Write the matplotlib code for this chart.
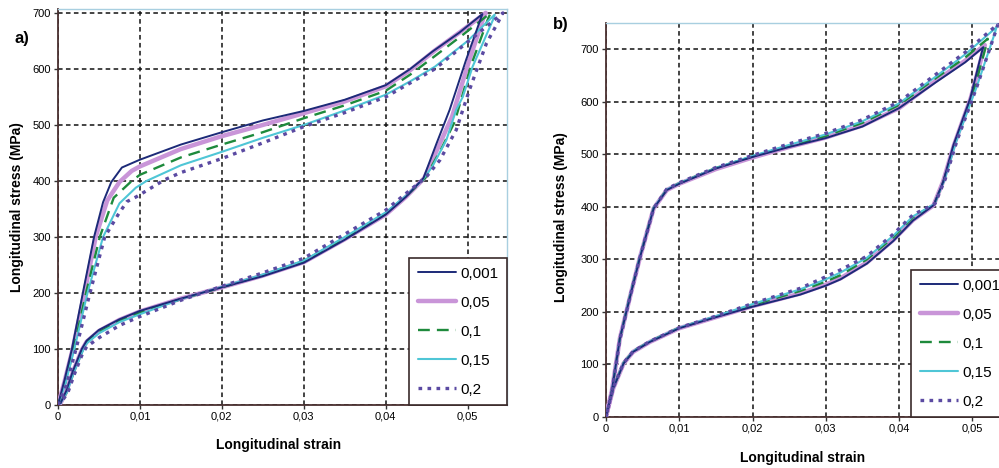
import matplotlib
matplotlib.use("Agg")
import matplotlib.pyplot as plt
from matplotlib.ticker import FuncFormatter

plt.rcParams['font.family'] = ['Liberation Sans', 'DejaVu Sans']

# legend labels (strain rate)
labels = ['0,001', '0,05', '0,1', '0,15', '0,2']

# ---- panel a): loading branch then unloading branch ----
a_e_0001 = [0, 0.0008, 0.0017, 0.0031, 0.0044, 0.0055, 0.0065, 0.0078, 0.010, 0.015, 0.020, 0.025, 0.030, 0.035,
            0.040, 0.043, 0.0457, 0.049, 0.0518,
            0.0516, 0.0498, 0.0478, 0.0462, 0.0446, 0.0425, 0.040, 0.035, 0.030, 0.025, 0.020, 0.015, 0.010,
            0.0075, 0.005, 0.0035, 0.0029, 0.0018, 0.001, 0.0003]
a_s_0001 = [0, 45, 100, 205, 300, 362, 398, 424, 438, 465, 487, 508, 525, 545, 571, 600, 631, 665, 698,
            690, 616, 527, 467, 405, 372, 340, 295, 254, 230, 210, 190, 168, 153, 134, 115, 100, 60, 25, 3]

a_e_005 = [0, 0.0008, 0.0018, 0.0033, 0.0046, 0.0060, 0.0075, 0.009, 0.010, 0.015, 0.020, 0.025, 0.030, 0.035,
           0.040, 0.043, 0.046, 0.049, 0.0522,
           0.0519, 0.0502, 0.0481, 0.0464, 0.0447, 0.0425, 0.040, 0.035, 0.030, 0.025, 0.020, 0.015, 0.010,
           0.0075, 0.005, 0.0035, 0.0029, 0.0018, 0.001, 0.0003]
a_s_005 = [0, 42, 100, 205, 300, 365, 398, 418, 426, 457, 480, 500, 521, 542, 569, 598, 633, 665, 700,
           690, 616, 515, 460, 405, 372, 340, 296, 255, 231, 210, 190, 167, 152, 132, 113, 98, 58, 24, 3]

a_e_01 = [0, 0.0009, 0.0019, 0.0035, 0.0051, 0.0068, 0.009, 0.010, 0.015, 0.020, 0.025, 0.030, 0.035, 0.040,
          0.043, 0.046, 0.0495, 0.0528,
          0.0525, 0.0505, 0.0484, 0.0467, 0.0448, 0.0425, 0.040, 0.035, 0.030, 0.025, 0.020, 0.015, 0.010,
          0.0075, 0.005, 0.0035, 0.003, 0.0019, 0.0011, 0.0003]
a_s_01 = [0, 40, 100, 205, 300, 370, 400, 411, 442, 465, 487, 512, 535, 561, 590, 623, 662, 700,
          690, 610, 505, 455, 405, 373, 342, 298, 257, 232, 210, 189, 165, 150, 130, 112, 98, 58, 24, 3]

a_e_015 = [0, 0.0009, 0.002, 0.0036, 0.0055, 0.0075, 0.0095, 0.0108, 0.015, 0.020, 0.025, 0.030, 0.035, 0.040,
           0.043, 0.046, 0.050, 0.0533,
           0.0531, 0.0506, 0.0494, 0.0486, 0.0474, 0.0457, 0.0445, 0.0425, 0.040, 0.035, 0.030, 0.025, 0.020,
           0.015, 0.010, 0.0075, 0.005, 0.0035, 0.003, 0.0019, 0.0011, 0.0003]
a_s_015 = [0, 38, 100, 200, 300, 360, 388, 400, 428, 452, 477, 500, 526, 554, 578, 604, 650, 697,
           688, 604, 550, 527, 473, 426, 402, 374, 344, 300, 258, 233, 211, 189, 162, 148, 128, 110, 96, 57, 23, 3]

a_e_02 = [0, 0.001, 0.0022, 0.0039, 0.0057, 0.0073, 0.0084, 0.0096, 0.013, 0.015, 0.020, 0.025, 0.030, 0.035,
          0.040, 0.043, 0.046, 0.050, 0.0543,
          0.0541, 0.0523, 0.0502, 0.0486, 0.0466, 0.045, 0.0425, 0.040, 0.035, 0.030, 0.025, 0.020, 0.015,
          0.010, 0.0075, 0.005, 0.0035, 0.003, 0.002, 0.0012, 0.0003]
a_s_02 = [0, 35, 100, 200, 300, 339, 363, 372, 402, 415, 440, 468, 497, 522, 550, 575, 600, 648, 700,
          694, 646, 562, 491, 437, 408, 378, 348, 305, 262, 236, 212, 187, 158, 142, 120, 104, 92, 55, 22, 3]

# ---- panel b) ----
b_e_0001 = [0, 0.0008, 0.0019, 0.0033, 0.0046, 0.0065, 0.0083, 0.010, 0.015, 0.020, 0.025, 0.030, 0.035, 0.040,
            0.045, 0.049, 0.0515,
            0.0513, 0.0497, 0.0474, 0.046, 0.0447, 0.0419, 0.0392, 0.0356, 0.032, 0.030, 0.0265, 0.020, 0.015,
            0.010, 0.006, 0.0037, 0.0024, 0.001, 0.0001]
b_s_0001 = [0, 50, 150, 230, 302, 397, 432, 444, 473, 495, 514, 531, 553, 588, 637, 675, 704,
            695, 606, 517, 447, 403, 374, 335, 292, 262, 250, 233, 210, 190, 169, 143, 124, 102, 55, 8]

b_e_005 = [0, 0.0008, 0.0019, 0.0033, 0.0046, 0.0065, 0.0083, 0.010, 0.015, 0.020, 0.025, 0.030, 0.035, 0.040,
           0.045, 0.049, 0.0517,
           0.0515, 0.0498, 0.0475, 0.046, 0.0447, 0.0419, 0.0392, 0.0356, 0.032, 0.030, 0.0265, 0.020, 0.015,
           0.010, 0.006, 0.0037, 0.0024, 0.001, 0.0001]
b_s_005 = [0, 50, 150, 230, 302, 397, 432, 444, 472, 494, 514, 532, 555, 588, 640, 678, 708,
           698, 608, 518, 448, 403, 375, 337, 294, 264, 252, 235, 211, 190, 169, 143, 124, 102, 55, 8]

b_e_01 = [0, 0.0008, 0.0019, 0.0033, 0.0046, 0.0065, 0.0083, 0.010, 0.015, 0.020, 0.025, 0.030, 0.035, 0.040,
          0.045, 0.049, 0.0521,
          0.0519, 0.0500, 0.0476, 0.0461, 0.0448, 0.0419, 0.0392, 0.0356, 0.032, 0.030, 0.0265, 0.020, 0.015,
          0.010, 0.006, 0.0037, 0.0024, 0.001, 0.0001]
b_s_01 = [0, 50, 150, 232, 303, 398, 433, 445, 474, 496, 516, 535, 560, 594, 645, 684, 720,
          708, 612, 520, 450, 405, 380, 342, 300, 270, 258, 240, 213, 191, 170, 144, 125, 103, 56, 8]

b_e_015 = [0, 0.0008, 0.0019, 0.0033, 0.0046, 0.0065, 0.0083, 0.010, 0.015, 0.020, 0.025, 0.030, 0.035, 0.040,
           0.045, 0.049, 0.0533,
           0.053, 0.0505, 0.0478, 0.0462, 0.0448, 0.0419, 0.0392, 0.0356, 0.032, 0.030, 0.0265, 0.020, 0.015,
           0.010, 0.006, 0.0037, 0.0024, 0.001, 0.0001]
b_s_015 = [0, 50, 150, 232, 304, 398, 433, 445, 474, 497, 518, 538, 563, 597, 648, 690, 742,
           728, 625, 525, 452, 405, 382, 345, 303, 275, 262, 243, 215, 192, 170, 144, 125, 103, 56, 8]

b_e_02 = [0, 0.0008, 0.0019, 0.0033, 0.0046, 0.0065, 0.0083, 0.010, 0.015, 0.020, 0.025, 0.030, 0.035, 0.040,
          0.045, 0.049, 0.0535,
          0.0532, 0.0506, 0.0479, 0.0463, 0.0449, 0.0419, 0.0392, 0.0356, 0.032, 0.030, 0.0265, 0.020, 0.015,
          0.010, 0.006, 0.0037, 0.0024, 0.001, 0.0001]
b_s_02 = [0, 48, 148, 230, 302, 397, 434, 446, 475, 498, 520, 540, 566, 600, 652, 694, 748,
          735, 628, 526, 453, 406, 385, 348, 306, 280, 267, 245, 216, 192, 170, 144, 125, 103, 56, 8]

x_ticks = [0, 0.01, 0.02, 0.03, 0.04, 0.05]
y_ticks = [0, 100, 200, 300, 400, 500, 600, 700]

styles = [
    dict(color='#1c2a78', lw=1.4, zorder=5),
    dict(color='#c995d8', lw=3.2, zorder=3),
    dict(color='#1e8a3c', lw=1.7, dashes=(5, 3), zorder=4),
    dict(color='#4fc6d6', lw=1.5, zorder=4),
    dict(color='#5b4aa2', lw=2.4, dashes=(1.1, 1.6), zorder=6),
]


def comma(v, pos):
    if v == 0:
        return '0'
    return ('%.2f' % v).replace('.', ',')


def setup(ax, ymax):
    ax.set_xlim(0, 0.055)
    ax.set_ylim(0, ymax)
    ax.set_xticks(x_ticks)
    ax.set_yticks(y_ticks)
    ax.xaxis.set_major_formatter(FuncFormatter(comma))
    ax.tick_params(labelsize=8, length=3, width=1, color='#333333', pad=2)
    ax.grid(True, color='#111111', lw=1.1, linestyle=(0, (3, 2.2)))
    ax.set_axisbelow(True)
    for s in ['left', 'bottom']:
        ax.spines[s].set_color('#4a3030')
        ax.spines[s].set_linewidth(1.3)
    for s in ['top', 'right']:
        ax.spines[s].set_color('#a8cfe0')
        ax.spines[s].set_linewidth(1.0)


def legend(ax):
    lg = ax.legend(loc='lower right', borderaxespad=0, fancybox=False, framealpha=1,
                   edgecolor='#3a2a2a', fontsize=11, handlelength=2.5, handletextpad=0.3,
                   labelspacing=0.98, borderpad=0.55)
    lg.get_frame().set_linewidth(1.2)


fig = plt.figure(figsize=(9.99, 4.68), dpi=100)

ax_a = fig.add_axes([58 / 999, 63 / 468, 449 / 999, 396 / 468])
setup(ax_a, 707)
ax_a.set_xlim(0, 0.0548)
series_a = [(a_e_0001, a_s_0001), (a_e_005, a_s_005), (a_e_01, a_s_01), (a_e_015, a_s_015), (a_e_02, a_s_02)]
for (e, s), lab, st in zip(series_a, labels, styles):
    ax_a.plot(e, s, label=lab, solid_capstyle='round', solid_joinstyle='round', **st)
legend(ax_a)

ax_b = fig.add_axes([606 / 999, 51 / 468, 403 / 999, 394 / 468])
setup(ax_b, 750)
series_b = [(b_e_0001, b_s_0001), (b_e_005, b_s_005), (b_e_01, b_s_01), (b_e_015, b_s_015), (b_e_02, b_s_02)]
for (e, s), lab, st in zip(series_b, labels, styles):
    ax_b.plot(e, s, label=lab, solid_capstyle='round', solid_joinstyle='round', **st)
legend(ax_b)

# axis titles and panel letters
fig.text(17 / 999, 1 - 207 / 468, 'Longitudinal stress (MPa)', rotation=90, ha='center', va='center',
         fontsize=10, fontweight='bold')
fig.text(561 / 999, 1 - 217 / 468, 'Longitudinal stress (MPa)', rotation=90, ha='center', va='center',
         fontsize=10, fontweight='bold')
fig.text(279 / 999, 1 - 445 / 468, 'Longitudinal strain', ha='center', va='center', fontsize=10, fontweight='bold')
fig.text(803 / 999, 1 - 458 / 468, 'Longitudinal strain', ha='center', va='center', fontsize=10, fontweight='bold')
fig.text(22 / 999, 1 - 38 / 468, 'a)', ha='center', va='center', fontsize=12, fontweight='bold')
fig.text(561 / 999, 1 - 25 / 468, 'b)', ha='center', va='center', fontsize=12, fontweight='bold')

fig.savefig('out.png', dpi=100)
